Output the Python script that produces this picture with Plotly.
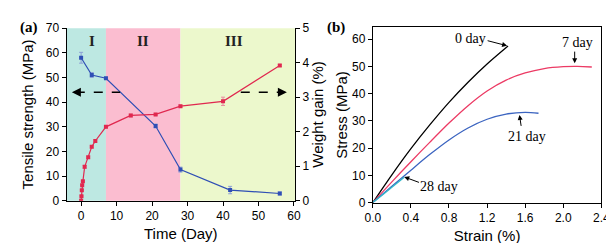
import plotly.graph_objects as go

# ---- Panel (a) data ----
ts_days = [0, 3, 7, 21, 28, 42, 56]
ts_mpa = [58.0, 51.0, 49.7, 30.3, 12.6, 4.3, 2.9]
ts_err = [2.2, 1.0, 0.4, 0.8, 1.0, 1.5, 0.6]

wg_days = [0, 0.1, 0.2, 0.3, 0.5, 1, 2, 3, 4, 7, 14, 21, 28, 40, 56]
wg_pct = [0.0, 0.13, 0.3, 0.45, 0.56, 0.98, 1.26, 1.56, 1.73, 2.14, 2.47, 2.5, 2.74, 2.88, 3.92]
wg_err = [0.02, 0.02, 0.02, 0.02, 0.02, 0.04, 0.03, 0.03, 0.03, 0.03, 0.04, 0.03, 0.03, 0.12, 0.03]

stage_names = ["I", "II", "III"]
stage_bounds = [(-4.2, 7), (7, 28), (28, 61)]
stage_colors = ["#bde8e2", "#fbbdd0", "#ecf8cc"]
stage_label_x = [3, 17.5, 43]

# ---- Panel (b) data ----
strain_0 = [0, 0.2, 0.4, 0.6, 0.8, 1.0, 1.2, 1.42]
stress_0 = [0, 10.2, 19.8, 28.6, 36.8, 44.2, 50.9, 57.5]
strain_7 = [0, 0.2, 0.4, 0.6, 0.8, 1.0, 1.2, 1.4, 1.6, 1.8, 2.0, 2.15, 2.3]
stress_7 = [0, 7.6, 15.0, 22.2, 29.2, 35.6, 41.0, 45.0, 47.6, 49.2, 49.9, 50.0, 49.8]
strain_21 = [0, 0.2, 0.4, 0.6, 0.8, 1.0, 1.2, 1.4, 1.6, 1.74]
stress_21 = [0, 6.0, 11.9, 17.7, 23.0, 27.4, 30.6, 32.5, 33.1, 32.8]
strain_28 = [0, 0.1, 0.2, 0.33]
stress_28 = [0, 2.8, 5.6, 9.3]

W, H = 614, 243
serif = "Liberation Serif"
sans = "Liberation Sans"

fig = go.Figure()

# Panel (a) series
fig.add_trace(go.Scatter(
    x=ts_days, y=ts_mpa, mode="lines+markers",
    line=dict(color="#2f4fb5", width=1.2),
    marker=dict(symbol="square", size=4, color="#2f4fb5"),
    error_y=dict(type="data", array=ts_err, color="#8c9fd6", thickness=1, width=2),
    xaxis="x", yaxis="y", showlegend=False))
fig.add_trace(go.Scatter(
    x=wg_days, y=wg_pct, mode="lines+markers",
    line=dict(color="#e0284f", width=1.2),
    marker=dict(symbol="square", size=4, color="#e0284f"),
    error_y=dict(type="data", array=wg_err, color="#e88aa0", thickness=1, width=2),
    xaxis="x", yaxis="y2", showlegend=False))

# Panel (b) series
for sx, sy, col in [(strain_0, stress_0, "#000000"),
                    (strain_7, stress_7, "#ec3a64"),
                    (strain_21, stress_21, "#3b64c0"),
                    (strain_28, stress_28, "#33b8c8")]:
    fig.add_trace(go.Scatter(x=sx, y=sy, mode="lines",
                             line=dict(color=col, width=1.3, shape="spline", smoothing=0.8),
                             xaxis="x2", yaxis="y3", showlegend=False))

shapes = []
for (x0, x1), c in zip(stage_bounds, stage_colors):
    shapes.append(dict(type="rect", xref="x", yref="y domain", x0=x0, x1=x1, y0=0, y1=1,
                       fillcolor=c, line=dict(width=0), layer="below"))
# dashed arrows
shapes.append(dict(type="line", xref="x", yref="y", x0=-1.5, x1=11, y0=44, y1=44,
                   line=dict(color="black", width=1.5, dash="dash")))
shapes.append(dict(type="line", xref="x", yref="y", x0=45, x1=57, y0=44, y1=44,
                   line=dict(color="black", width=1.5, dash="dash")))

ann = []
for name, lx in zip(stage_names, stage_label_x):
    ann.append(dict(x=lx, y=65, xref="x", yref="y", text="<b>%s</b>" % name, showarrow=False,
                    font=dict(family=serif, size=15, color="#222")))
ann.append(dict(x=-2.6, y=44, ax=-1.0, ay=44, xref="x", yref="y", axref="x", ayref="y",
                text="", showarrow=True, arrowhead=2, arrowsize=1.2, arrowwidth=1.5, arrowcolor="black"))
ann.append(dict(x=58, y=44, ax=56.5, ay=44, xref="x", yref="y", axref="x", ayref="y",
                text="", showarrow=True, arrowhead=2, arrowsize=1.2, arrowwidth=1.5, arrowcolor="black"))
# panel labels
for txt, px in [("(a)", 2), ("(b)", 318)]:
    ann.append(dict(x=px / W, y=(H - 2) / H, xref="paper", yref="paper", text="<b>%s</b>" % txt,
                    showarrow=False, xanchor="left", yanchor="top",
                    font=dict(family=serif, size=15, color="black")))

# Panel (b) curve labels
lab_font = dict(family=serif, size=14, color="black")
arr = dict(xref="x2", yref="y3", axref="x2", ayref="y3", text="", showarrow=True,
           arrowhead=2, arrowsize=1, arrowwidth=1, arrowcolor="black")
ann += [
    dict(x=1.03, y=60.3, xref="x2", yref="y3", text="0 day", showarrow=False, font=lab_font),
    dict(x=1.41, y=57.6, ax=1.19, ay=59.6, **arr),
    dict(x=2.15, y=58.8, xref="x2", yref="y3", text="7 day", showarrow=False, font=lab_font),
    dict(x=2.12, y=51.2, ax=2.12, ay=56.0, **arr),
    dict(x=1.62, y=24.3, xref="x2", yref="y3", text="21 day", showarrow=False, font=lab_font),
    dict(x=1.54, y=32.2, ax=1.56, ay=27.6, **arr),
    dict(x=0.70, y=5.9, xref="x2", yref="y3", text="28 day", showarrow=False, font=lab_font),
    dict(x=0.33, y=9.4, ax=0.5, ay=7.2, **arr),
]

tick_font = dict(family=sans, size=12, color="black")
title_font = dict(family=sans, size=15, color="black")
axis_common = dict(showgrid=False, zeroline=False, showline=True, linecolor="black", linewidth=1,
                   ticks="outside", ticklen=4, tickcolor="black", tickfont=tick_font)

fig.update_layout(
    width=W, height=H, margin=dict(l=0, r=0, t=0, b=0),
    paper_bgcolor="white", plot_bgcolor="rgba(0,0,0,0)",
    shapes=shapes, annotations=ann,
    xaxis=dict(domain=[52 / W, 287 / W], range=[-4.1, 60.3], anchor="y",
               tickvals=[0, 10, 20, 30, 40, 50, 60],
               title=dict(text="Time (Day)", font=title_font, standoff=6), **axis_common),
    yaxis=dict(domain=[46 / H, 229 / H], range=[0, 70], anchor="x", dtick=10,
               title=dict(text="Tensile strength (MPa)", font=title_font, standoff=8), **axis_common),
    yaxis2=dict(range=[0, 5], overlaying="y", side="right", anchor="x", dtick=1,
                title=dict(text="Weight gain (%)", font=title_font, standoff=0), **axis_common),
    xaxis2=dict(domain=[367 / W, 602 / W], range=[0, 2.4], anchor="y3", dtick=0.4, tickformat=".1f",
                mirror=True,
                title=dict(text="Strain (%)", font=title_font, standoff=6), **axis_common),
    yaxis3=dict(domain=[44 / H, 230 / H], range=[0, 64.4], anchor="x2", dtick=10, mirror=True,
                title=dict(text="Stress (MPa)", font=title_font, standoff=0), **axis_common),
)

fig.write_html("out.html")
